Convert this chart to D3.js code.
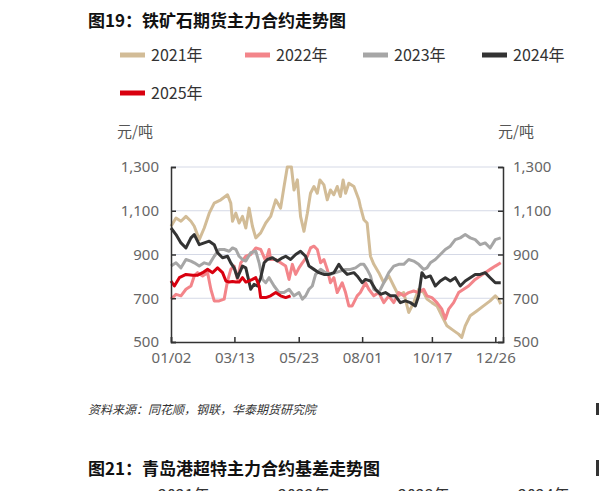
<!DOCTYPE html><html><head><meta charset="utf-8"><script src="https://cdn.jsdelivr.net/npm/d3@7"></script>
<style>body{margin:0;background:#fff}svg{font-family:"Noto Sans CJK SC","Noto Sans",sans-serif}</style></head><body>
<svg id="c" width="599" height="491"></svg>
<script>
const years=["2021年","2022年","2023年","2024年","2025年"];
const colors=["#d2bc97","#f3858a","#a6a6a6","#333333","#d9000f"];
const xTicks=[[2,"01/02"],[72,"03/13"],[143,"05/23"],[213,"08/01"],[290,"10/17"],[360,"12/26"]];
const yTicks=[500,700,900,1100,1300];
const s2021=[[2,1029],[7.5,1067],[13,1052],[18.5,1074],[24,1052],[27.7,1029],[33.2,968],[38.7,1021],[44.2,1089],[49.7,1135],[57,1150],[64.4,1173],[68,1135],[69.9,1052],[73.6,1089],[77.2,1044],[80.9,1074],[84.6,1021],[88.2,1112],[91.9,1029],[95.6,976],[101,999],[106.6,1044],[112,1074],[117.6,1150],[123,1112],[126.8,1211],[130.4,1300],[134.9,1300],[137.8,1195],[141.5,1241],[145,1074],[148.8,1006],[152.5,1089],[156,1180],[159.8,1211],[163.5,1180],[166.4,1241],[170.8,1218],[174.5,1150],[178,1195],[181.8,1173],[185.5,1211],[189,1165],[192,1241],[194.7,1180],[198.3,1226],[203.9,1211],[209.4,1150],[211,1120],[214.9,1059],[218.5,1044],[222.2,892],[225.9,855],[231.4,817],[236.9,771],[242.4,802],[247.9,756],[253.4,711],[258.9,726],[264.4,635],[269.9,680],[275.4,741],[280.9,726],[284.6,696],[290,680],[295.6,665],[301,620],[306.6,574],[314,552],[319.5,536],[323,521],[326.8,574],[332.3,620],[339.6,642],[347,665],[354.3,688],[360,711],[363.5,696],[366,673]];
const s2022=[[2,696],[7.5,718],[13,711],[18.5,741],[24,756],[27.7,802],[31.4,817],[36.9,802],[42.4,817],[46,741],[49.7,688],[55.2,688],[60.7,696],[64.4,779],[68,832],[71.7,847],[75.4,786],[79,862],[84.6,892],[90,900],[95.6,930],[101,923],[106.6,870],[110.3,923],[112,877],[117.6,877],[123,862],[128.6,847],[132.3,786],[136,855],[139.6,809],[143.3,839],[147,862],[152.5,892],[156,930],[159.8,938],[163.5,923],[167.2,862],[170.8,877],[174.5,832],[178,771],[181.8,794],[185.5,726],[191,771],[194.7,726],[198.3,665],[202,665],[207.5,711],[211,726],[216.7,771],[220.4,741],[225.9,711],[231.4,726],[236.9,680],[242.4,711],[247.9,680],[253.4,726],[258.9,711],[264.4,726],[269.9,733],[275.4,726],[280.9,741],[284.6,711],[290,703],[295.6,680],[301,650],[304.8,605],[308.5,650],[314,680],[319.5,726],[325,741],[330.5,756],[337.8,786],[343.3,802],[348.8,817],[354.3,832],[360,847],[366,862]];
const s2023=[[2,847],[7.5,862],[13,839],[18.5,877],[24,870],[27.7,862],[33.2,847],[38.7,862],[44.2,855],[49.7,892],[55.2,923],[60.7,923],[66.2,915],[69.9,930],[73.6,923],[77.2,892],[80.9,877],[84.6,870],[90,908],[95.6,915],[99.3,862],[103,786],[106.6,771],[110.3,794],[115.8,756],[121.3,726],[126.8,726],[132.3,741],[137.8,711],[143.3,726],[147,696],[150.6,711],[154.3,741],[158,756],[161.6,809],[167.2,832],[172.7,817],[178,809],[183.7,817],[189,824],[194.7,832],[200,832],[205.7,839],[211,855],[214.9,855],[218.5,832],[222.2,802],[225.9,741],[231.4,726],[236.9,771],[242.4,817],[247.9,847],[253.4,855],[258.9,855],[264.4,877],[269.9,870],[275.4,855],[280.9,832],[284.6,839],[288.3,862],[293.8,877],[299.3,900],[304.8,923],[310.3,938],[315.8,968],[321.3,976],[326.8,991],[332.3,976],[337.8,968],[343.3,945],[348.8,953],[354.3,930],[360,968],[366,976]];
const s2024=[[2,1021],[7.5,991],[13,953],[18.5,930],[24,976],[27.7,991],[33.2,945],[38.7,953],[44.2,961],[49.7,945],[53.4,908],[58.9,885],[64.4,892],[68,862],[71.7,839],[75.4,794],[80.9,847],[84.6,839],[90,741],[93.7,764],[97.4,756],[101,794],[104.8,862],[108.4,877],[114,885],[119.4,870],[125,885],[128.6,892],[134,877],[139.6,900],[145,915],[150.6,892],[154.3,847],[159.8,832],[165.3,817],[170.8,809],[176.3,809],[181.8,817],[187.3,855],[191,832],[196.5,809],[203.9,817],[207.5,802],[213,771],[216.7,786],[222.2,779],[227.7,741],[233.2,718],[238.7,726],[244.2,711],[249.7,711],[255.2,680],[260.7,688],[266.2,680],[271.7,665],[275.4,711],[279,817],[282.8,794],[288.3,802],[293.8,756],[299.3,779],[304.8,794],[310.3,779],[315.8,794],[321.3,756],[326.8,779],[332.3,794],[337.8,809],[343.3,809],[348.8,817],[354.3,794],[360,771],[366,771]];
const s2025=[[2,779],[5.7,756],[11.2,794],[18.5,809],[25.9,805],[31.4,805],[36.9,817],[42.4,832],[47.9,817],[53.4,839],[58.9,817],[62.6,779],[66.2,774],[69.9,777],[73.6,774],[77.2,774],[80.9,794],[84.6,774],[88.2,779],[91.9,786],[95.6,794],[99.3,756],[101,703],[106.6,703],[112,711],[117.6,726],[123,711],[128.6,703],[134,711]];
const series=[s2021,s2022,s2023,s2024,s2025];

const svg=d3.select("#c");
const L=171,R=503,T=167,B=342;
const x=d3.scaleLinear().domain([2,368.5]).range([L,R]);
const y=d3.scaleLinear().domain([500,1300]).range([B,T]);

svg.append("text").attr("x",88).attr("y",27).attr("font-size",17).attr("font-weight","bold").attr("fill","#111").text("图19：铁矿石期货主力合约走势图");
// legend
const lg=[[120,55],[245,55],[363,55],[482,55],[120,93]];
years.forEach((t,i)=>{const [lx,ly]=lg[i];
 svg.append("line").attr("x1",lx).attr("x2",lx+25).attr("y1",ly).attr("y2",ly).attr("stroke",colors[i]).attr("stroke-width",5);
 svg.append("text").attr("x",lx+31).attr("y",ly+6).attr("font-size",16).attr("fill","#333").text(t);});
svg.append("text").attr("x",117).attr("y",137).attr("font-size",15).attr("fill","#555").text("元/吨");
svg.append("text").attr("x",498).attr("y",137).attr("font-size",15).attr("fill","#555").text("元/吨");
// grid
svg.append("g").selectAll("line").data(yTicks.slice(1,4)).join("line").attr("x1",L).attr("x2",R).attr("y1",d=>y(d)).attr("y2",d=>y(d)).attr("stroke","#d5d9e6").attr("stroke-width",1);
svg.append("line").attr("x1",L).attr("x2",R).attr("y1",y(1300)).attr("y2",y(1300)).attr("stroke","#d5d9e6");
// lines
const line=d3.line().x(d=>x(d[0])).y(d=>y(d[1]));
series.forEach((s,i)=>svg.append("path").attr("d",line(s)).attr("fill","none").attr("stroke",colors[i]).attr("stroke-width",3).attr("stroke-linejoin","round"));
// axes
const ya=d3.axisLeft(y).tickValues(yTicks).tickSize(-5).tickFormat(d3.format(","));
const gl=svg.append("g").attr("transform",`translate(${L},0)`).call(ya);
const gr=svg.append("g").attr("transform",`translate(${R},0)`).call(d3.axisRight(y).tickValues(yTicks).tickSize(-5).tickFormat(d3.format(",")));
const xa=d3.axisBottom(x).tickValues(xTicks.map(d=>d[0])).tickSize(-5).tickFormat((d,i)=>xTicks[i][1]);
const gb=svg.append("g").attr("transform",`translate(0,${B})`).call(xa);
[gl,gr,gb].forEach(g=>{g.select(".domain").attr("stroke","#333").attr("stroke-width",1.5);g.selectAll(".tick line").attr("stroke","#333").attr("stroke-width",1.5);g.selectAll("text").attr("font-size",15).attr("fill","#666").attr("font-family","'Noto Sans',sans-serif");});
gl.selectAll("text").attr("x",-12);gr.selectAll("text").attr("x",10);gb.selectAll("text").attr("y",10);
svg.append("text").attr("x",88).attr("y",414).attr("font-size",12).attr("font-style","italic").attr("fill","#333").text("资料来源：同花顺，钢联，华泰期货研究院");
svg.append("text").attr("x",88).attr("y",475).attr("font-size",17).attr("font-weight","bold").attr("fill","#111").text("图21：青岛港超特主力合约基差走势图");
svg.append("rect").attr("x",596).attr("y",403).attr("width",3).attr("height",12).attr("fill","#333");
svg.append("rect").attr("x",596).attr("y",460).attr("width",3).attr("height",16).attr("fill","#333");
years.slice(0,4).forEach((t,i)=>{svg.append("text").attr("x",158+i*120).attr("y",501).attr("font-size",16).attr("fill","#333").text(t);});
</script></body></html>
